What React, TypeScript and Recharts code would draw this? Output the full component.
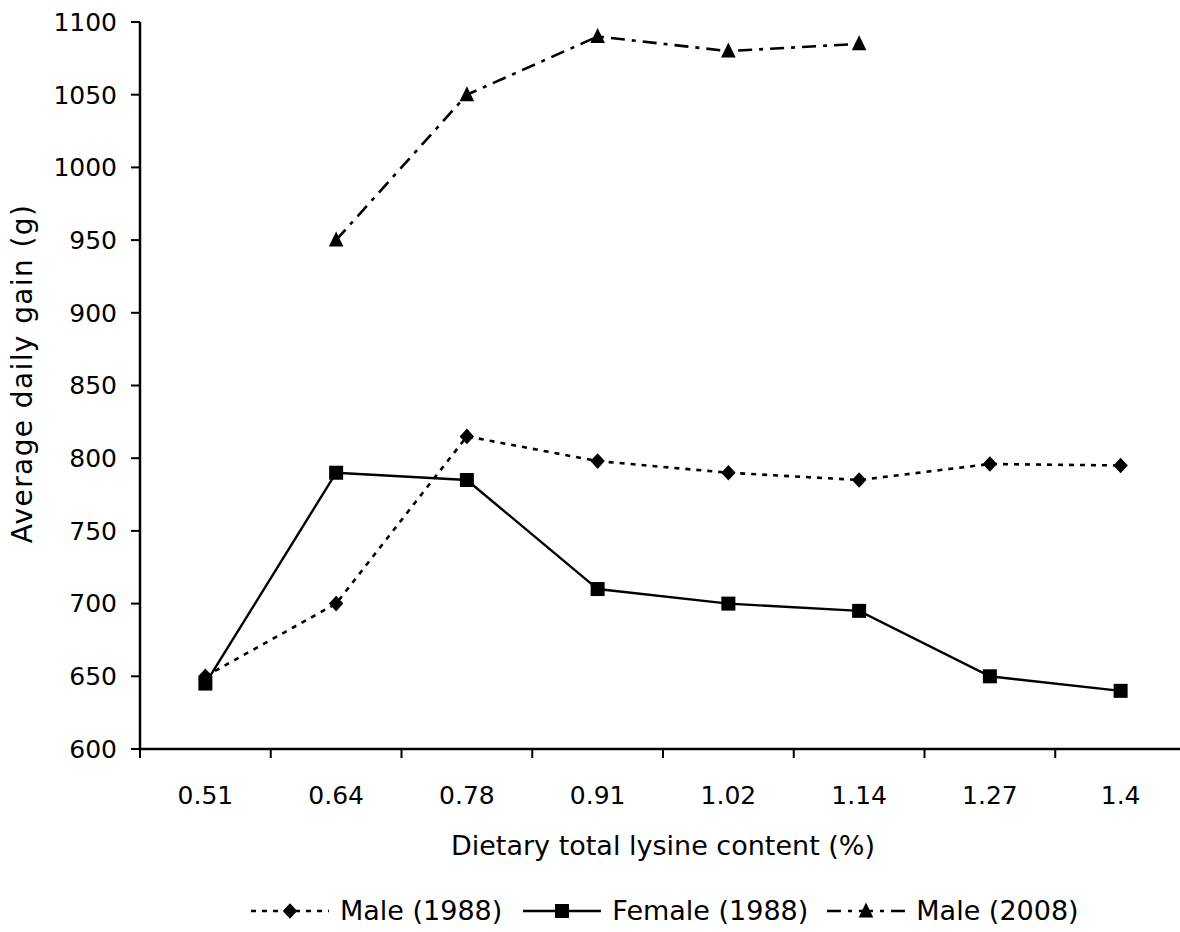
import React from "react";
import { LineChart, Line, XAxis, YAxis } from "recharts";

document.body.style.margin = "0";

// ─── Data ─────────────────────────────────────────────────────────────────────

const lysine = ["0.51", "0.64", "0.78", "0.91", "1.02", "1.14", "1.27", "1.4"];
const male1988 = [650, 700, 815, 798, 790, 785, 796, 795];
const female1988 = [645, 790, 785, 710, 700, 695, 650, 640];
const male2008 = [null, 950, 1050, 1090, 1080, 1085, null, null];
const yTicks = [600, 650, 700, 750, 800, 850, 900, 950, 1000, 1050, 1100];

const data = lysine.map((l, i) => ({
    lysine: l,
    male1988: male1988[i],
    female1988: female1988[i],
    male2008: male2008[i],
}));

const FONT = "'DejaVu Sans', sans-serif";
const INK = "#000";
const PLOT_W = 1046;
const BAND = PLOT_W / lysine.length;

// ─── Markers ──────────────────────────────────────────────────────────────────

function Diamond({ cx, cy }: any) {
    if (cx == null || cy == null) return null;
    const rx = 7.2, ry = 7.8;
    return <path d={`M${cx},${cy - ry}L${cx + rx},${cy}L${cx},${cy + ry}L${cx - rx},${cy}Z`} fill={INK} />;
}

function Square({ cx, cy }: any) {
    if (cx == null || cy == null) return null;
    const r = 7;
    return <rect x={cx - r} y={cy - r} width={r * 2} height={r * 2} fill={INK} />;
}

function Triangle({ cx, cy }: any) {
    if (cx == null || cy == null) return null;
    const r = 7.3;
    return <path d={`M${cx},${cy - 8.5}L${cx + r},${cy + 6.5}L${cx - r},${cy + 6.5}Z`} fill={INK} />;
}

const series = [
    { key: "male1988", name: "Male (1988)", dash: "5 6", width: 2.6, Marker: Diamond, gapAfter: 20 },
    { key: "female1988", name: "Female (1988)", dash: undefined, width: 2.4, Marker: Square, gapAfter: 18 },
    { key: "male2008", name: "Male (2008)", dash: "14 7 4 7", width: 2.6, Marker: Triangle, gapAfter: 0 },
];

// ─── Axis pieces ──────────────────────────────────────────────────────────────

// Excel-style: tick marks sit between categories, labels at category centres
function CategoryTick(props: any) {
    const { x, y, payload, index } = props;
    return (
        <g>
            <line x1={x - BAND / 2} y1={y - 8} x2={x - BAND / 2} y2={y + 1} stroke={INK} strokeWidth={2} />
            {index === lysine.length - 1 && (
                <line x1={x + BAND / 2} y1={y - 8} x2={x + BAND / 2} y2={y + 1} stroke={INK} strokeWidth={2} />
            )}
            <text x={x} y={y + 47} textAnchor="middle" fontFamily={FONT} fontSize={25} fill={INK}>
                {payload.value}
            </text>
        </g>
    );
}

function XTitle({ viewBox }: any) {
    const cx = viewBox.x + viewBox.width / 2;
    return (
        <text x={cx} y={855} textAnchor="middle" fontFamily={FONT} fontSize={27} fill={INK}>
            Dietary total lysine content (%)
        </text>
    );
}

function YTitle({ viewBox }: any) {
    const cy = viewBox.y + viewBox.height / 2 - 12;
    return (
        <text
            x={32}
            y={cy}
            transform={`rotate(-90, 32, ${cy})`}
            textAnchor="middle"
            fontFamily={FONT}
            fontSize={28}
            letterSpacing={1.4}
            fill={INK}
        >
            Average daily gain (g)
        </text>
    );
}

// ─── Legend ───────────────────────────────────────────────────────────────────

function LegendRow() {
    return (
        <div
            style={{
                position: "absolute",
                top: 895,
                left: 250,
                display: "flex",
                alignItems: "center",
                fontFamily: FONT,
                fontSize: 27,
                lineHeight: "32px",
                color: INK,
                whiteSpace: "nowrap",
            }}
        >
            {series.map((s) => (
                <div key={s.key} style={{ display: "flex", alignItems: "center", marginRight: s.gapAfter }}>
                    <svg width={80} height={20}>
                        <line x1={1} y1={10} x2={79} y2={10} stroke={INK} strokeWidth={s.width} strokeDasharray={s.dash} />
                        <s.Marker cx={40} cy={10} />
                    </svg>
                    <span style={{ marginLeft: 10 }}>{s.name}</span>
                </div>
            ))}
        </div>
    );
}

// ─── Chart ────────────────────────────────────────────────────────────────────

export default function App() {
    return (
        <div style={{ position: "relative", width: 1180, height: 932, overflow: "hidden", background: "#fff" }}>
            <LineChart width={140 + PLOT_W} height={932} data={data} margin={{ top: 22, right: 0, left: 0, bottom: 0 }}>
                <XAxis
                    dataKey="lysine"
                    height={183}
                    padding={{ left: BAND / 2, right: BAND / 2 }}
                    axisLine={{ stroke: INK, strokeWidth: 2.5 }}
                    tickLine={false}
                    tick={<CategoryTick />}
                    interval={0}
                    label={<XTitle />}
                />
                <YAxis
                    width={140}
                    domain={[600, 1100]}
                    ticks={yTicks}
                    interval={0}
                    axisLine={{ stroke: INK, strokeWidth: 2.5 }}
                    tickLine={{ stroke: INK, strokeWidth: 2 }}
                    tickSize={9}
                    tickMargin={14}
                    tick={{ fontFamily: FONT, fontSize: 25, fill: INK }}
                    label={<YTitle />}
                />
                {series.map((s) => (
                    <Line
                        key={s.key}
                        dataKey={s.key}
                        name={s.name}
                        stroke={INK}
                        strokeWidth={s.width}
                        strokeDasharray={s.dash}
                        dot={(p: any) => <s.Marker key={`${s.key}-${p.index}`} cx={p.cx} cy={p.cy} />}
                        activeDot={false}
                        isAnimationActive={false}
                        connectNulls={false}
                    />
                ))}
            </LineChart>
            <LegendRow />
        </div>
    );
}
